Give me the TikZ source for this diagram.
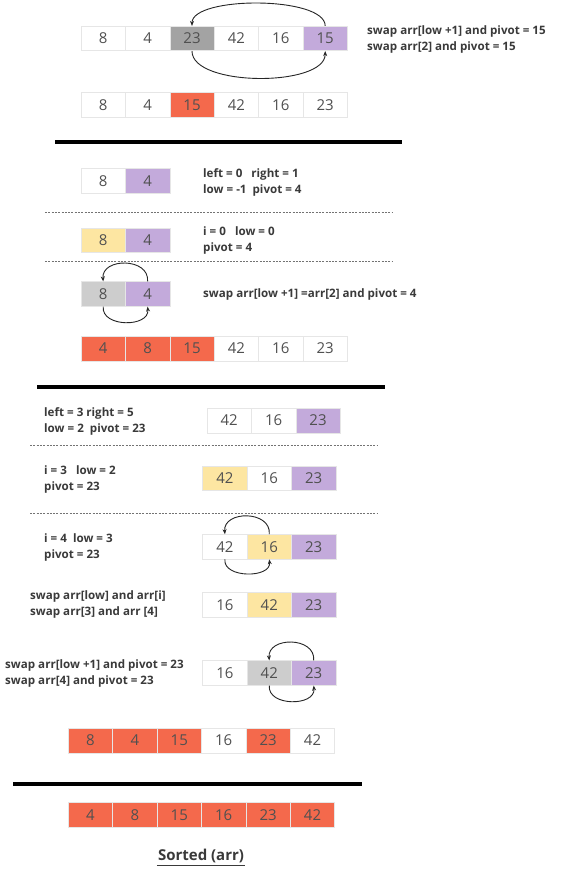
\documentclass[tikz,border=0pt]{standalone}
\usepackage{fontspec}
\setmainfont{Open Sans}
\usetikzlibrary{arrows.meta}
\definecolor{purp}{HTML}{C3AADB}
\definecolor{yell}{HTML}{FDE6A2}
\definecolor{orng}{HTML}{F4694C}
\definecolor{dgray}{HTML}{A3A3A3}
\definecolor{lgray}{HTML}{CDCDCD}
\definecolor{cellline}{HTML}{E6E6E6}
\definecolor{numtext}{HTML}{505050}
\definecolor{lbltext}{HTML}{3A3A3A}
\tikzset{
  cell/.style={draw=cellline, line width=0.6pt, minimum width=44.4pt, minimum height=24.6pt,
    inner sep=0pt, text=numtext, font=\fontsize{15}{17}\selectfont},
  lbl/.style={anchor=west, align=left, text=lbltext, inner sep=0pt,
    font=\fontsize{11.6}{16}\selectfont\bfseries},
  swaparrow/.style={draw=black!85, line width=0.9pt, -{Stealth[length=5pt,width=4pt]}},
  dotline/.style={draw=black!55, line width=0.9pt, dash pattern=on 2pt off 1.3pt},
  thickline/.style={draw=black, line width=4pt}
}
\newcommand\cellrow[4]{%
  \foreach \v/\f [count=\i] in {#4}
    \node[cell, fill=\f] (#1-\i) at ({#2+44.4*(\i-0.5)},#3) {\v};}
\begin{document}
\begin{tikzpicture}[x=1pt,y=-1pt]
\useasboundingbox[fill=white] (0,0) rectangle (562,877);

% ---- first partition ----
\cellrow{ra}{81}{38.5}{8/white,4/white,23/dgray,42/white,16/white,15/purp}
\draw[swaparrow] (ra-6.north) .. controls +(0,-30) and +(0,-30) .. (ra-3.north);
\draw[swaparrow] (ra-3.south) .. controls +(0,36) and +(0,36) .. (ra-6.south);
\node[lbl] (t1) at (367,39) {swap arr[low +1] and pivot = 15\\swap arr[2] and pivot = 15};
\cellrow{rb}{81}{105}{8/white,4/white,15/orng,42/white,16/white,23/white}

\coordinate (l1a) at (55,142);
\coordinate (l1b) at (402,142);
\draw[thickline] (l1a) -- (l1b);

% ---- left part ----
\cellrow{rc}{81}{181}{8/white,4/purp}
\node[lbl] (t2) at (203,182) {left = 0\ \ \ right = 1\\low = -1\ \ pivot = 4};
\coordinate (d1a) at (45,212.7);
\coordinate (d1b) at (392,212.7);
\draw[dotline] (d1a) -- (d1b);

\cellrow{rd}{81}{240.3}{8/yell,4/purp}
\node[lbl] (t3) at (203,240.5) {i = 0\ \ \ low = 0\\pivot = 4};
\coordinate (d2a) at (45,261.3);
\coordinate (d2b) at (392,261.3);
\draw[dotline] (d2a) -- (d2b);

\cellrow{re}{81}{294}{8/lgray,4/purp}
\draw[swaparrow] (re-2.north) .. controls +(2,-24) and +(-2,-24) .. (re-1.north);
\draw[swaparrow] (re-1.south) .. controls +(-2,21) and +(2,21) .. (re-2.south);
\node[lbl] (t4) at (203,294) {swap arr[low +1] =arr[2] and pivot = 4};

\cellrow{rf}{81}{348.5}{4/orng,8/orng,15/orng,42/white,16/white,23/white}

\coordinate (l2a) at (37,387);
\coordinate (l2b) at (385,387);
\draw[thickline] (l2a) -- (l2b);

% ---- right part ----
\node[lbl] (t5) at (44,421) {left = 3 right = 5\\low = 2\ \ pivot = 23};
\cellrow{rg}{207}{420.5}{42/white,16/white,23/purp}
\coordinate (d3a) at (30,445);
\coordinate (d3b) at (378,445);
\draw[dotline] (d3a) -- (d3b);

\node[lbl] (t6) at (44,479.7) {i = 3\ \ \ low = 2\\pivot = 23};
\cellrow{rh}{202.7}{478.3}{42/yell,16/white,23/purp}
\coordinate (d4a) at (30,513);
\coordinate (d4b) at (378,513);
\draw[dotline] (d4a) -- (d4b);

\node[lbl] (t7) at (44,547) {i = 4\ \ low = 3\\pivot = 23};
\cellrow{ri}{202.7}{546.8}{42/white,16/yell,23/purp}
\draw[swaparrow] (ri-2.north) .. controls +(2,-24) and +(-2,-24) .. (ri-1.north);
\draw[swaparrow] (ri-1.south) .. controls +(-2,19) and +(2,19) .. (ri-2.south);

\node[lbl] (t8) at (30,604.8) {swap arr[low] and arr[i]\\swap arr[3] and arr [4]};
\cellrow{rj}{202.7}{604.8}{16/white,42/yell,23/purp}

\node[lbl] (t9) at (5,673) {swap arr[low +1] and pivot = 23\\swap arr[4] and pivot = 23};
\cellrow{rk}{202.7}{673}{16/white,42/lgray,23/purp}
\draw[swaparrow] (rk-3.north) .. controls +(2,-24) and +(-2,-24) .. (rk-2.north);
\draw[swaparrow] (rk-2.south) .. controls +(-2,21) and +(2,21) .. (rk-3.south);

\cellrow{rl}{68.3}{740.5}{8/orng,4/orng,15/orng,16/white,23/orng,42/white}

\coordinate (l3a) at (13,783.5);
\coordinate (l3b) at (362,783.5);
\draw[thickline] (l3a) -- (l3b);

\cellrow{rm}{68.3}{815}{4/orng,8/orng,15/orng,16/orng,23/orng,42/orng}

\node[text=lbltext, font=\fontsize{15}{17}\selectfont\bfseries, inner sep=1pt] (sorted) at (201,856) {Sorted (arr)};
\draw[lbltext, line width=1pt] ([yshift=-1pt]sorted.south west) -- ([yshift=-1pt]sorted.south east);
\end{tikzpicture}
\end{document}
